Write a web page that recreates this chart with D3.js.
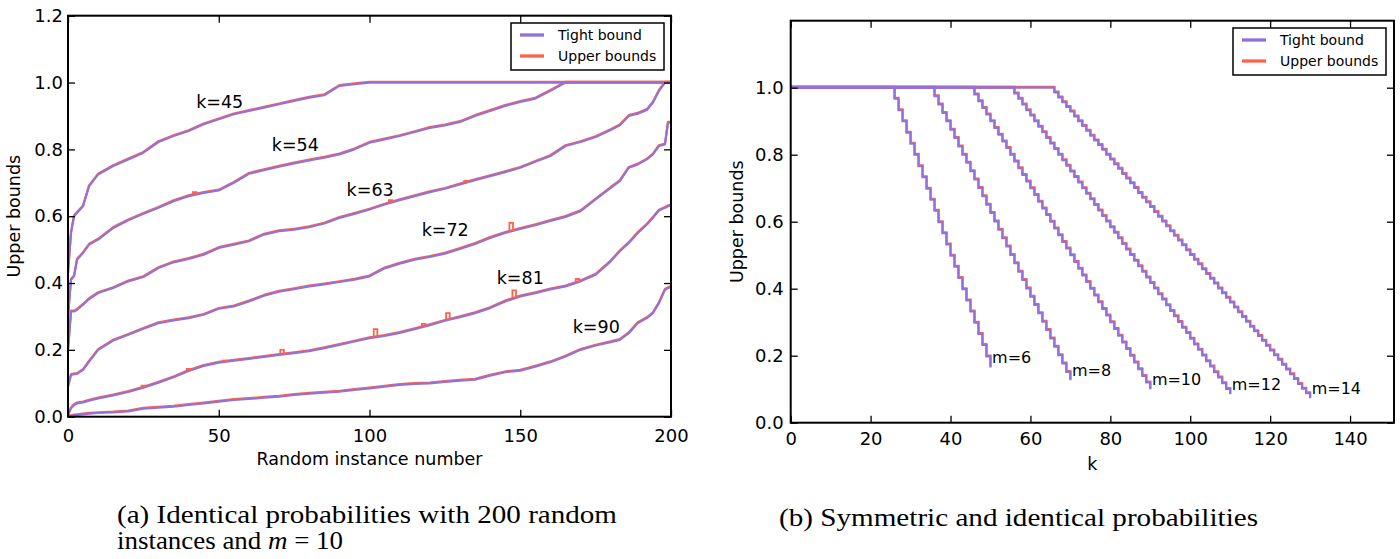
<!DOCTYPE html>
<html>
<head>
<meta charset="utf-8">
<script src="https://cdn.jsdelivr.net/npm/d3@7"></script>
<style>
  body { margin: 0; background: #fff; }
  svg text { font-family: "DejaVu Sans", sans-serif; fill: #000; }
</style>
</head>
<body>
<svg id="fig" width="1400" height="559"></svg>
<script>
// ---------- panel (a): 200 random instances, m = 10 ----------
var instances = [0,1,2,3,5,7,10,15,20,25,30,35,40,45,50,55,60,65,70,75,80,85,90,95,100,
  105,110,115,120,125,130,135,140,145,150,155,160,165,170,175,180,183,186,189,192,194,196,198,199,200];

var kValues = [45, 54, 63, 72, 81, 90];

var tight45 = [0.43,0.55,0.60,0.61,0.63,0.69,0.725,0.75,0.77,0.79,0.822,0.84,0.855,0.875,0.89,0.905,0.915,0.925,0.935,0.945,0.955,0.962,0.99,0.995,1.0,
  1,1,1,1,1,1,1,1,1,1,1,1,1,1,1,1,1,1,1,1,1,1,1,1,1];
var tight54 = [0.30,0.41,0.42,0.47,0.49,0.515,0.53,0.565,0.588,0.607,0.625,0.645,0.66,0.67,0.677,0.70,0.727,0.738,0.748,0.758,0.767,0.775,0.785,0.80,0.82,
  0.83,0.84,0.852,0.864,0.872,0.882,0.90,0.915,0.93,0.942,0.952,0.975,1.0,1,1,1,1,1,1,1,1,1,1,1,1];
var tight63 = [0.20,0.315,0.315,0.32,0.335,0.352,0.37,0.385,0.405,0.418,0.445,0.462,0.472,0.485,0.505,0.515,0.525,0.545,0.555,0.56,0.567,0.578,0.595,0.607,0.62,
  0.635,0.648,0.66,0.672,0.682,0.695,0.708,0.72,0.732,0.745,0.763,0.78,0.81,0.822,0.837,0.858,0.872,0.90,0.907,0.918,0.94,0.975,1.0,1.0,1.0];
var tight72 = [0.09,0.125,0.127,0.128,0.14,0.165,0.20,0.228,0.245,0.263,0.28,0.288,0.295,0.305,0.323,0.33,0.345,0.362,0.374,0.382,0.39,0.396,0.403,0.41,0.42,
  0.444,0.458,0.47,0.478,0.488,0.502,0.517,0.535,0.55,0.562,0.573,0.586,0.598,0.615,0.65,0.685,0.705,0.745,0.755,0.77,0.785,0.81,0.815,0.88,0.88];
var tight81 = [0.005,0.025,0.035,0.04,0.043,0.048,0.055,0.064,0.074,0.087,0.102,0.118,0.137,0.152,0.162,0.168,0.173,0.179,0.185,0.19,0.196,0.205,0.215,0.225,0.235,
  0.242,0.251,0.262,0.274,0.287,0.298,0.31,0.325,0.345,0.36,0.37,0.381,0.39,0.405,0.425,0.465,0.495,0.52,0.55,0.575,0.595,0.617,0.625,0.63,0.632];
var tight90 = [0.0,0.002,0.004,0.005,0.007,0.009,0.011,0.013,0.016,0.024,0.027,0.03,0.035,0.04,0.045,0.05,0.053,0.057,0.06,0.065,0.069,0.072,0.075,0.08,0.085,
  0.09,0.095,0.098,0.10,0.104,0.108,0.111,0.123,0.133,0.138,0.15,0.163,0.18,0.2,0.213,0.223,0.23,0.25,0.28,0.295,0.31,0.34,0.38,0.385,0.388];

var tightA = [tight45, tight54, tight63, tight72, tight81, tight90];

// where the upper bound sits above the tight bound
var spikeK    = [54, 63, 63, 72, 81, 81, 81, 81, 81, 81, 81, 81, 81];
var spikeInst = [42, 107, 132, 147, 25, 40, 52, 71, 102, 118, 126, 148, 169];
var spikePeak = [0.672, 0.648, 0.706, 0.58, 0.093, 0.143, 0.168, 0.20, 0.262, 0.278, 0.31, 0.378, 0.412];

// annotation anchors (data units)
var kLabelInst = [42.5, 67.6, 92.4, 117.3, 142.2, 167.4];
var kLabelVal  = [0.925, 0.795, 0.66, 0.54, 0.397, 0.25];

// ---------- panel (b): symmetric and identical probabilities ----------
var mValues = [6, 8, 10, 12, 14];
var mStart  = [25, 35, 45, 55, 65];   // k where the bound starts to drop below 1

var tightM6 = [1.0,.967,.933,.900,.866,.833,.800,.766,.733,.699,.666,.633,.599,.566,.532,.499,.466,.432,.399,.365,.332,.299,.265,.232,.198,.165];
var tightM8 = [1.0,.975,.950,.925,.900,.875,.850,.825,.800,.776,.751,.726,.701,.676,.651,.626,.601,.576,.551,.526,.501,.476,.451,.426,.401,.376,
  .352,.327,.302,.277,.252,.227,.202,.177,.152,.127];
var tightM10 = [1.0,.98,.96,.94,.92,.90,.88,.86,.84,.82,.80,.78,.76,.74,.72,.70,.68,.66,.64,.62,.60,.58,.56,.54,.52,.50,.48,.46,.44,.42,.40,
  .38,.36,.34,.32,.30,.28,.26,.24,.22,.20,.18,.16,.14,.12,.10];
var tightM12 = [1.0,.983,.967,.950,.933,.917,.900,.884,.867,.850,.834,.817,.800,.784,.767,.750,.734,.717,.700,.684,.667,.650,.634,.617,.601,.584,
  .567,.551,.534,.517,.501,.484,.467,.451,.434,.417,.401,.384,.368,.351,.334,.318,.301,.284,.268,.251,.234,.218,.201,.184,.168,.151,.135,.118,.101,.085];
var tightM14 = [1.0,.986,.971,.957,.943,.929,.914,.900,.886,.872,.857,.843,.829,.815,.800,.786,.772,.758,.743,.729,.715,.701,.686,.672,.658,.644,
  .629,.615,.601,.587,.572,.558,.544,.530,.515,.501,.487,.473,.458,.444,.430,.416,.401,.387,.373,.359,.344,.330,.316,.302,.287,.273,.259,.245,
  .230,.216,.202,.188,.173,.159,.145,.131,.116,.102,.088,.073];

var tightB = [tightM6, tightM8, tightM10, tightM12, tightM14];

var legendNames = ["Tight bound", "Upper bounds"];

// ---------- drawing ----------
var purple = "#9370db";
var red = "#ff6347";

var svg = d3.select("#fig");
svg.append("rect").attr("width", 1400).attr("height", 559).attr("fill", "#fff");

function drawAxes(x, y, xTicks, yTicks, xPad, yPad) {
  var g = svg.append("g");
  var y0 = y.range()[0], y1 = y.range()[1];
  var x0 = x.range()[0], x1 = x.range()[1];

  g.append("g").attr("transform", `translate(0,${y0})`)
    .call(d3.axisBottom(x).tickValues(xTicks).tickSize(-7).tickPadding(xPad).tickFormat(d3.format("d")));
  g.append("g").attr("transform", `translate(0,${y1})`)
    .call(d3.axisTop(x).tickValues(xTicks).tickSize(-7).tickFormat(""));
  g.append("g").attr("transform", `translate(${x0},0)`)
    .call(d3.axisLeft(y).tickValues(yTicks).tickSize(-7).tickPadding(yPad).tickFormat(d3.format(".1f")));
  g.append("g").attr("transform", `translate(${x1},0)`)
    .call(d3.axisRight(y).tickValues(yTicks).tickSize(-7).tickFormat(""));

  g.selectAll(".domain").remove();
  g.selectAll(".tick line").attr("stroke", "#000").attr("stroke-width", 1.3);
  g.selectAll(".tick text").attr("font-size", 18).attr("font-family", "DejaVu Sans").attr("fill", "#000");

  svg.append("rect")
    .attr("x", x0).attr("y", y1)
    .attr("width", x1 - x0).attr("height", y0 - y1)
    .attr("fill", "none").attr("stroke", "#000").attr("stroke-width", 2);
}

function drawLegend(x0, y0) {
  var g = svg.append("g").attr("transform", `translate(${x0},${y0})`);
  g.append("rect").attr("width", 153).attr("height", 47)
    .attr("fill", "#fff").attr("stroke", "#000").attr("stroke-width", 1.5);
  [purple, red].forEach(function(c, i) {
    g.append("line")
      .attr("x1", 9).attr("x2", 33)
      .attr("y1", 12 + i * 21).attr("y2", 12 + i * 21)
      .attr("stroke", c).attr("stroke-width", 3.3);
    g.append("text")
      .attr("x", 47).attr("y", 17 + i * 21)
      .attr("font-size", 14)
      .text(legendNames[i]);
  });
}

// ----- panel (a) -----
var xA = d3.scaleLinear().domain([0, 200]).range([68, 671]);
var yA = d3.scaleLinear().domain([0, 1.2]).range([416.7, 15.7]);

var lineA = d3.line()
  .x(d => xA(d[0]))
  .y(d => yA(d[1]));

var plotA = svg.append("g");
var redA = plotA.append("g").attr("transform", "translate(0,-0.8)");
var purpleA = plotA.append("g");

tightA.forEach(function(series, i) {
  var pts = instances.map((t, j) => [t, series[j]]);
  redA.append("path").datum(pts)
    .attr("d", lineA).attr("fill", "none")
    .attr("stroke", red).attr("stroke-width", 2.2).attr("stroke-linejoin", "round");
  purpleA.append("path").datum(pts)
    .attr("d", lineA).attr("fill", "none")
    .attr("stroke", purple).attr("stroke-width", 2.2).attr("stroke-linejoin", "round");
});

// upper bound spikes
spikeK.forEach(function(k, i) {
  var series = tightA[kValues.indexOf(k)];
  var interp = d3.scaleLinear().domain(instances).range(series);
  var t = spikeInst[i];
  var base = interp(t);
  var p = d3.path();
  p.moveTo(xA(t - 0.6), yA(base));
  p.lineTo(xA(t - 0.6), yA(spikePeak[i]));
  p.lineTo(xA(t + 0.6), yA(spikePeak[i]));
  p.lineTo(xA(t + 0.6), yA(base));
  plotA.append("path").attr("d", p.toString())
    .attr("fill", "none").attr("stroke", red).attr("stroke-width", 1.8);
});

kValues.forEach(function(k, i) {
  svg.append("text")
    .attr("x", xA(kLabelInst[i])).attr("y", yA(kLabelVal[i]))
    .attr("font-size", 17.5)
    .text("k=" + k);
});

drawAxes(xA, yA, [0, 50, 100, 150, 200], [0, 0.2, 0.4, 0.6, 0.8, 1.0, 1.2], 13, 5);

svg.append("text")
  .attr("x", (xA.range()[0] + xA.range()[1]) / 2).attr("y", 465)
  .attr("text-anchor", "middle").attr("font-size", 17.5)
  .text("Random instance number");
svg.append("text")
  .attr("transform", `translate(20,${(yA.range()[0] + yA.range()[1]) / 2}) rotate(-90)`)
  .attr("text-anchor", "middle").attr("font-size", 17.5)
  .text("Upper bounds");

drawLegend(511, 23);

// ----- panel (b) -----
var xB = d3.scaleLinear().domain([0, 151]).range([790.7, 1394]);
var yB = d3.scaleLinear().domain([0, 1.2]).range([422.7, 20.7]);

var lineB = d3.line()
  .x(d => xB(d[0]))
  .y(d => yB(d[1]))
  .curve(d3.curveStepAfter);

var plotB = svg.append("g");
var redB = plotB.append("g").attr("transform", "translate(0,-0.8)");
var purpleB = plotB.append("g");

tightB.forEach(function(series, i) {
  var pts = [[0, 1.0]].concat(series.map((v, j) => [mStart[i] + j, v]));
  redB.append("path").datum(pts)
    .attr("d", lineB).attr("fill", "none")
    .attr("stroke", red).attr("stroke-width", 2.2);
  purpleB.append("path").datum(pts)
    .attr("d", lineB).attr("fill", "none")
    .attr("stroke", purple).attr("stroke-width", 2.2);

  var kEnd = mStart[i] + series.length - 1;
  svg.append("text")
    .attr("x", xB(kEnd + 0.4)).attr("y", yB(series[series.length - 1] + 0.012))
    .attr("font-size", 16)
    .text("m=" + mValues[i]);
});

drawAxes(xB, yB, [0, 20, 40, 60, 80, 100, 120, 140], [0, 0.2, 0.4, 0.6, 0.8, 1.0], 10, 7);

svg.append("text")
  .attr("x", (xB.range()[0] + xB.range()[1]) / 2).attr("y", 470)
  .attr("text-anchor", "middle").attr("font-size", 17.5)
  .text("k");
svg.append("text")
  .attr("transform", `translate(743,${(yB.range()[0] + yB.range()[1]) / 2}) rotate(-90)`)
  .attr("text-anchor", "middle").attr("font-size", 17.5)
  .text("Upper bounds");

drawLegend(1233, 28);

// ----- captions -----
function caption(x, y, width) {
  var t = svg.append("text")
    .attr("x", x).attr("y", y)
    .attr("font-size", 25)
    .style("font-family", "'Liberation Serif', 'Times New Roman', serif");
  if (width) t.attr("textLength", width).attr("lengthAdjust", "spacingAndGlyphs");
  return t;
}
caption(117, 523, 500).text("(a) Identical probabilities with 200 random");
var c2 = caption(117, 549, 226);
c2.append("tspan").text("instances and ");
c2.append("tspan").attr("font-style", "italic").text("m");
c2.append("tspan").text(" = 10");
caption(779, 526, 479).text("(b) Symmetric and identical probabilities");
</script>
</body>
</html>
